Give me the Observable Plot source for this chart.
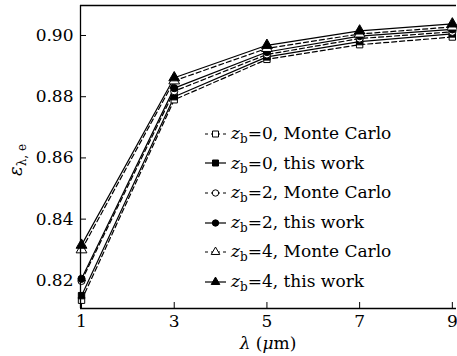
<!DOCTYPE html>
<html><head><meta charset="utf-8">
<script src="https://cdn.jsdelivr.net/npm/d3@7"></script>
<script src="https://cdn.jsdelivr.net/npm/@observablehq/plot@0.6"></script>
<style>
html,body{margin:0;padding:0;background:#fff;}
#wrap{position:relative;width:457px;height:356px;font-family:"DejaVu Serif","Liberation Serif",serif;}
#legend{position:absolute;left:205px;top:119px;font-size:17px;line-height:29.6px;color:#000;}
#legend .row{display:flex;align-items:center;height:29.6px;white-space:nowrap;}
#legend svg{margin-right:5px;}
#legend sub{font-size:12px;vertical-align:-4px;line-height:0;}
</style></head>
<body><div id="wrap"><div id="legend"></div></div>
<script>
const lambda = [1, 3, 5, 7, 9];
const z0MC = [0.8135, 0.8790, 0.8922, 0.8970, 0.8995];
const z0TW = [0.8150, 0.8800, 0.8930, 0.8980, 0.9005];
const z2MC = [0.8198, 0.8818, 0.8938, 0.8990, 0.9012];
const z2TW = [0.8205, 0.8828, 0.8946, 0.8998, 0.9020];
const z4MC = [0.8300, 0.8852, 0.8958, 0.9005, 0.9028];
const z4TW = [0.8315, 0.8862, 0.8968, 0.9015, 0.9038];
const xTicks = [1, 3, 5, 7, 9];
const yTicks = [0.82, 0.84, 0.86, 0.88, 0.90];
const xDomain = [0.978, 9.09];
const yDomain = [0.8108, 0.9098];

const series = [
  {zb: "0", kind: "Monte Carlo", values: z0MC, symbol: "square", mc: true},
  {zb: "0", kind: "this work", values: z0TW, symbol: "square", mc: false},
  {zb: "2", kind: "Monte Carlo", values: z2MC, symbol: "circle", mc: true},
  {zb: "2", kind: "this work", values: z2TW, symbol: "circle", mc: false},
  {zb: "4", kind: "Monte Carlo", values: z4MC, symbol: "triangle", mc: true},
  {zb: "4", kind: "this work", values: z4TW, symbol: "triangle", mc: false}
];
const rows = series.flatMap((s, i) => s.values.map((v, j) => ({x: lambda[j], y: v, id: i})));

const FONT = "'DejaVu Serif', 'Liberation Serif', serif";
const W = 457, H = 356, mL = 80, mR = 1, mT = 5, mB = 48;
const marks = [];
series.forEach((s, i) => {
  const d = rows.filter(r => r.id === i);
  marks.push(Plot.line(d, {x: "x", y: "y", stroke: "black", strokeWidth: 1.2, strokeDasharray: s.mc ? "5,3" : null}));
});
series.forEach((s, i) => {
  const d = rows.filter(r => r.id === i);
  marks.push(Plot.dot(d, {x: "x", y: "y", symbol: () => s.symbol, r: s.symbol === "triangle" ? 4 : 3.6, fill: s.mc ? "white" : "black", stroke: "black", strokeWidth: 1}));
});

const plot = Plot.plot({
  width: W, height: H,
  marginLeft: mL, marginRight: mR, marginTop: mT, marginBottom: mB,
  style: {fontFamily: FONT, fontSize: "17px", color: "black", background: "white"},
  x: {domain: xDomain},
  y: {domain: yDomain},
  symbol: {type: "identity"},
  marks: [
    Plot.axisX(xTicks, {tickSize: 0, tickPadding: 6, fontSize: 17, label: null}),
    Plot.axisY(yTicks, {tickSize: 0, tickPadding: 7, fontSize: 17, label: null, tickFormat: d => d.toFixed(2)}),
    Plot.tickX(xTicks, {x: d => d, stroke: "black", strokeWidth: 1, insetTop: H - mT - mB - 6}),
    Plot.tickY(yTicks, {y: d => d, stroke: "black", strokeWidth: 1, insetRight: W - mL - mR - 6}),
    ...marks,
    Plot.ruleX([xDomain[0]], {stroke: "black", strokeWidth: 1.3}),
    Plot.ruleY([yDomain[0], yDomain[1]], {stroke: "black", strokeWidth: 1.3})
  ]
});
const wrap = document.getElementById("wrap");
wrap.insertBefore(plot, wrap.firstChild);

const svg = d3.select(plot);
const yl = svg.append("text")
  .attr("transform", "translate(22,160) rotate(-90)")
  .attr("text-anchor", "middle")
  .attr("font-size", 18).attr("font-family", FONT);
yl.append("tspan").attr("font-style", "italic").text("ε");
yl.append("tspan").attr("font-size", 12).attr("dy", 4).text("λ, e");

const xl = svg.append("text")
  .attr("x", 268).attr("y", 349)
  .attr("text-anchor", "middle")
  .attr("font-size", 17).attr("font-family", FONT);
xl.append("tspan").attr("font-style", "italic").text("λ");
xl.append("tspan").text(" (");
xl.append("tspan").attr("font-style", "italic").text("μ");
xl.append("tspan").text("m)");

const leg = d3.select("#legend");
series.forEach(s => {
  const row = leg.append("div").attr("class", "row");
  const sv = row.append("svg").attr("width", 21).attr("height", 12);
  sv.append("line").attr("x1", 0).attr("x2", 21).attr("y1", 6).attr("y2", 6)
    .attr("stroke", "black").attr("stroke-width", 1.2)
    .attr("stroke-dasharray", s.mc ? "3,3" : null);
  const sym = {square: d3.symbolSquare, circle: d3.symbolCircle, triangle: d3.symbolTriangle}[s.symbol];
  sv.append("path").attr("d", d3.symbol(sym, s.symbol === "square" ? 36 : 32)())
    .attr("transform", "translate(10.5,6)")
    .attr("fill", s.mc ? "white" : "black").attr("stroke", "black");
  row.append("span").html(`<i>z</i><sub>b</sub>=${s.zb}, ${s.kind}`);
});
</script></body></html>
